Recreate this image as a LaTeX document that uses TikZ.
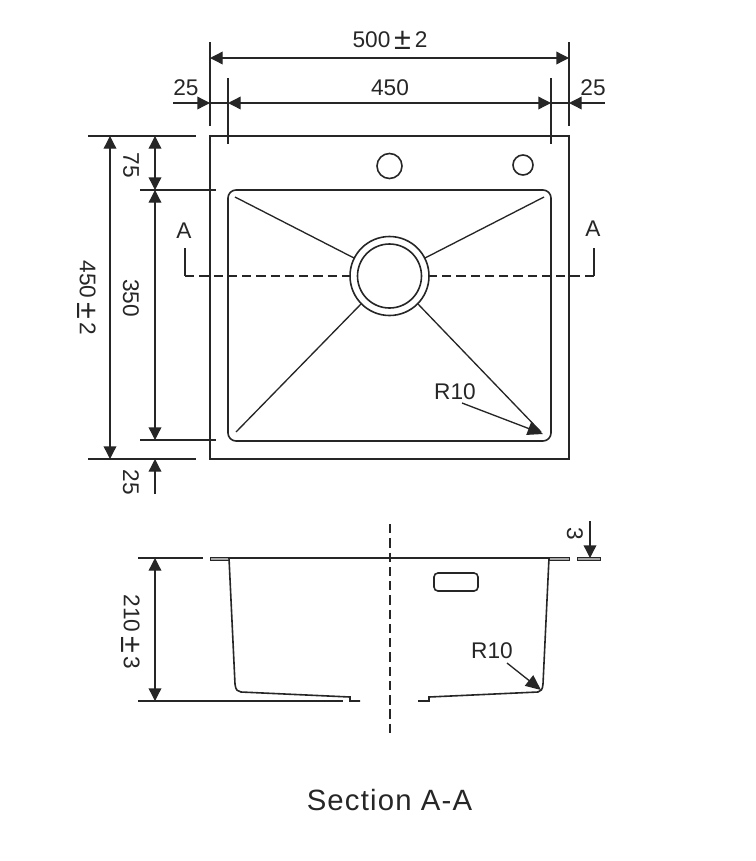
\documentclass[tikz,border=0pt]{standalone}
\usepackage{fontspec}
\setmainfont{Liberation Sans}
\usetikzlibrary{arrows.meta}
\definecolor{ink}{HTML}{262626}
\newcommand{\plusminus}{\,{\fontsize{23pt}{23pt}\selectfont\raisebox{-1.5pt}{±}}\,}
\tikzset{
  line/.style={draw=ink,line width=1.2pt},
  thin line/.style={draw=ink,line width=1pt},
  dim/.style={thin line,{Triangle[length=9.5pt,width=9.5pt]}-{Triangle[length=9.5pt,width=9.5pt]}},
  dimend/.style={thin line,-{Triangle[length=9.5pt,width=9.5pt]}},
  radius arrow/.style={thin line,-{Triangle[length=11.5pt,width=10pt]}},
  lab/.style={inner sep=0pt,text=ink,font=\fontsize{17pt}{19pt}\selectfont},
  vlab/.style={lab,rotate=-90},
  centre dash/.style={thin line,dash pattern=on 7pt off 3.7pt},
  flange/.style={draw=ink,line width=0.5pt,fill=gray!70}
}
\begin{document}
\begin{tikzpicture}[x=0.75pt,y=-0.75pt]
\useasboundingbox (0,0) rectangle (756,861);
% plan
\draw[line] (210,136) rectangle (569,459);
\draw[line,rounded corners=6pt] (228,190) rectangle (551,441);
\draw[line] (389.5,166) circle[radius=12.5];
\draw[line] (523,165) circle[radius=10];
\draw[line] (389.5,276) circle[radius=39.5];
\draw[line] (389.5,276) circle[radius=32];
\draw[thin line] (235,197) -- (354,258);
\draw[thin line] (544,197) -- (425,258);
\draw[thin line] (361,304) -- (236,432);
\draw[thin line] (418,304) -- (541,432);
% section line
\draw[thin line] (185,248) -- (185,276);
\draw[centre dash] (185,276) -- (350,276);
\draw[centre dash] (594,276) -- (429,276);
\draw[thin line] (594,248) -- (594,276);
\node[lab] (aL) at (184,231) {A};
\node[lab] (aR) at (593,229) {A};
% top dimensions
\draw[thin line] (210,42) -- (210,126);
\draw[thin line] (569,42) -- (569,126);
\draw[thin line] (228,78) -- (228,144);
\draw[thin line] (551,78) -- (551,144);
\draw[dim] (210,58) -- (569,58);
\draw[dim] (228,103) -- (551,103);
\draw[dimend] (173,103) -- (210,103);
\draw[thin line] (210,103) -- (228,103);
\draw[dimend] (605,103) -- (569,103);
\draw[thin line] (551,103) -- (569,103);
\node[lab] (t500) at (390,40) {500\plusminus 2};
\node[lab] (t450) at (390,88) {450};
\node[lab] (t25a) at (186,88) {25};
\node[lab] (t25b) at (593,88) {25};
% left dimensions
\draw[thin line] (88,136) -- (196,136);
\draw[thin line] (88,459) -- (196,459);
\draw[thin line] (140,190) -- (216,190);
\draw[thin line] (140,440) -- (216,440);
\draw[dim] (110,136) -- (110,459);
\draw[dim] (155,136) -- (155,190);
\draw[dim] (155,190) -- (155,440);
\draw[dimend] (155,494) -- (155,459);
\node[vlab] (t75) at (131,165) {75};
\node[vlab] (t350) at (131,298) {350};
\node[vlab] (t450v) at (87,298) {450\plusminus 2};
\node[vlab] (t25c) at (131,482) {25};
% R10 plan
\node[lab] (r1) at (455,392) {R10};
\coordinate (r1start) at (462,403);
\coordinate (r1tip) at (543,434);
\draw[radius arrow] (r1start) -- (r1tip);
% section
\draw[thin line] (138,558) -- (203,558);
\draw[thin line] (138,701) -- (343,701);
\draw[dim] (155,558) -- (155,701);
\node[vlab] (t210) at (131,632) {210\plusminus 3};
\draw[line] (229,558) -- (549,558);
\fill[flange] (210,557.5) rectangle (229,560.5);
\fill[flange] (549,557.5) rectangle (569,560.5);
\draw[line] (229,558) -- (235,684) .. controls (235.5,690) and (238,692) .. (241,692) -- (350,697) -- (350,701) -- (360,701);
\draw[line] (549,558) -- (543,684) .. controls (542.5,690) and (541,691) .. (538,692) -- (429,697) -- (429,701) -- (418,701);
\draw[line,rounded corners=3pt] (434,573) rectangle (478,591);
\draw[centre dash] (390,524) -- (390,733);
\fill[flange] (577,557.5) rectangle (600,560.5);
\draw[dimend] (590,521) -- (590,558);
\node[vlab] (t3) at (575,534) {3};
\node[lab] (r2) at (492,651) {R10};
\coordinate (r2start) at (507,663);
\coordinate (r2tip) at (541,690);
\draw[radius arrow] (r2start) -- (r2tip);
\node[inner sep=0pt,text=ink,font=\fontsize{22pt}{24pt}\selectfont\addfontfeature{LetterSpace=4}] (title) at (389.5,800) {Section A-A};
\end{tikzpicture}
\end{document}
